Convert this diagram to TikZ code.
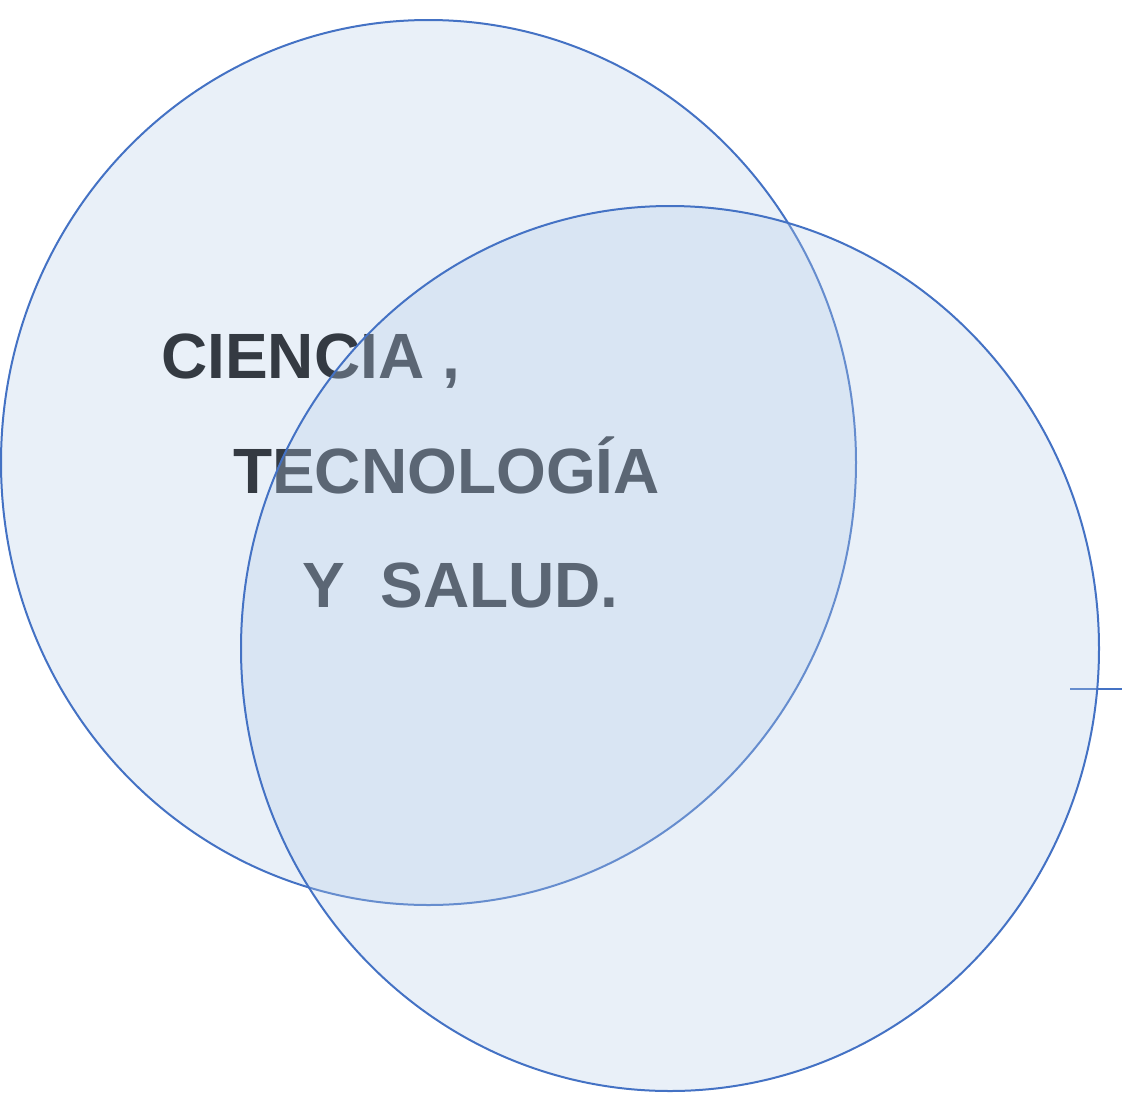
\documentclass[tikz,border=0pt]{standalone}
\usepackage{fontspec}
\setmainfont{Liberation Sans}
\definecolor{ringblue}{RGB}{68,114,196}
\definecolor{ringfill}{RGB}{182,205,232}
\definecolor{labelgray}{RGB}{52,58,66}
\tikzset{
  ring/.style={draw=ringblue,line width=2pt,fill=ringfill,fill opacity=0.3},
  label/.style={anchor=base west,text=labelgray,font=\fontsize{64}{68}\selectfont\bfseries,inner sep=0pt}
}

\begin{document}
\begin{tikzpicture}[x=1pt,y=-1pt]
        \useasboundingbox (0,0) rectangle (1122,1112);
        \draw[ring] (428.5,462.5) ellipse [x radius=427.5,y radius=442.5];
        \node[label] (ciencia) at (161,378) {CIENCIA ,};
        \node[label] (tecno) at (233,493) {TECNOLOGÍA};
        \node[label] (salud) at (302,607) {Y\ \ SALUD.};
        \coordinate (tickA) at (1070,689);
        \coordinate (tickB) at (1122,689);
        \draw[ringblue,line width=1.5pt] (tickA) -- (tickB);
        \draw[ring] (670,648.5) ellipse [x radius=429,y radius=442.5];
    \end{tikzpicture}
\end{document}
